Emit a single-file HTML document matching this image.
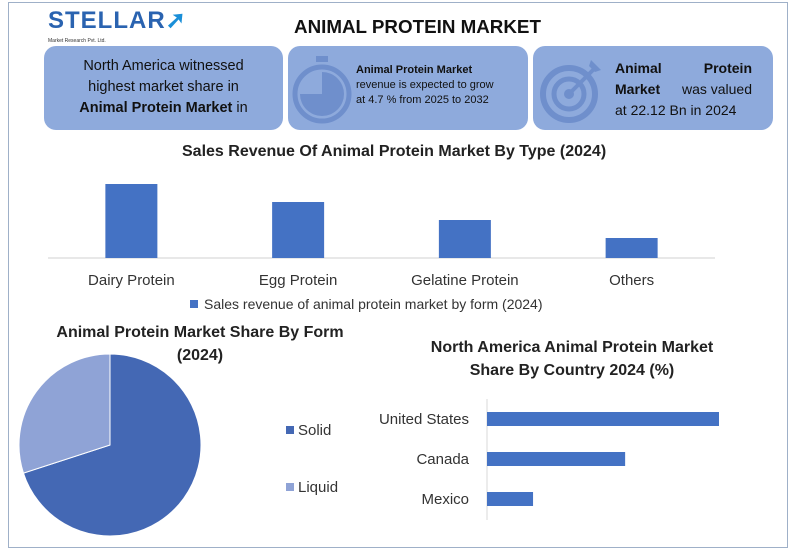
<!DOCTYPE html>
<html><head><meta charset="utf-8"><style>
body{margin:0;width:800px;height:557px;background:#fff;font-family:"Liberation Sans",sans-serif;overflow:hidden;position:relative}
.frame{position:absolute;left:8px;top:2px;width:780px;height:546px;border:1.5px solid #9fb0c8;box-sizing:border-box}
.box{position:absolute;top:46px;height:84px;background:#8eaadc;border-radius:12px;color:#111}
.t{position:absolute;white-space:nowrap}
</style></head><body>
<div class="frame"></div>
<div class="t" style="left:48px;top:6px;font-size:24px;color:#2a63b0;font-weight:bold;letter-spacing:1px">STELLAR<span style="color:#1a8fd8">➚</span></div>
<div class="t" style="left:48px;top:38px;font-size:5px;color:#333">Market Research Pvt. Ltd.</div>
<div class="t" style="left:294px;top:16px;font-size:18.8px;font-weight:bold;color:#111">ANIMAL PROTEIN MARKET</div>

<div class="box" style="left:44px;width:239px">
 <div style="text-align:center;font-size:14.5px;line-height:21px;margin-top:10px">North America witnessed<br>highest market share in<br><b>Animal Protein Market</b> in</div>
</div>
<div class="box" style="left:288px;width:240px">
 <svg width="64" height="70" style="position:absolute;left:2px;top:8px"><rect x="26" y="2" width="12" height="6" fill="#6f8fcc"/><circle cx="32" cy="40" r="27" fill="none" stroke="#6f8fcc" stroke-width="5"/><path d="M32 40 L32 18 A22 22 0 1 1 10 40 Z" fill="#6f8fcc"/></svg>
 <div style="position:absolute;left:68px;top:17px;font-size:11px;line-height:15px"><b>Animal Protein Market</b><br>revenue is expected to grow<br>at 4.7 % from 2025 to 2032</div>
</div>
<div class="box" style="left:533px;width:240px">
 <svg width="70" height="70" style="position:absolute;left:4px;top:8px"><circle cx="32" cy="40" r="26" fill="none" stroke="#6f8fcc" stroke-width="6"/><circle cx="32" cy="40" r="15" fill="none" stroke="#6f8fcc" stroke-width="5"/><circle cx="32" cy="40" r="5" fill="#6f8fcc"/><line x1="32" y1="40" x2="58" y2="14" stroke="#6f8fcc" stroke-width="4"/><path d="M54 6 L64 16 L58 18 L52 12Z" fill="#6f8fcc"/></svg>
 <div style="position:absolute;left:82px;top:12px;width:137px;font-size:14px;line-height:21px"><div style="display:flex;justify-content:space-between"><b>Animal</b><b>Protein</b></div><div style="display:flex;justify-content:space-between"><span><b>Market</b></span><span>was valued</span></div>at 22.12 Bn in 2024</div>
</div>

<div class="t" style="left:182px;top:143px;font-size:16px;font-weight:bold;color:#222">Sales Revenue Of Animal Protein Market By Type (2024)</div>
<svg id="typeChart" width="800" height="320" style="position:absolute;left:0;top:0"></svg>

<div class="t" style="left:20px;top:321px;width:360px;text-align:center;font-size:16px;font-weight:bold;line-height:23px;color:#222">Animal Protein Market Share By Form<br>(2024)</div>
<svg id="pieChart" width="400" height="557" style="position:absolute;left:0;top:0"></svg>

<div class="t" style="left:412px;top:336px;width:320px;text-align:center;font-size:16px;font-weight:bold;line-height:23px;color:#222">North America Animal Protein Market<br>Share By Country 2024 (%)</div>
<svg id="countryChart" width="800" height="557" style="position:absolute;left:0;top:0"></svg>

<script>
const NS="http://www.w3.org/2000/svg";
const typeCats=["Dairy Protein","Egg Protein","Gelatine Protein","Others"];
const typeVals=[7.4,5.6,3.8,2.0];
const formCats=["Solid","Liquid"];
const formVals=[70,30];
const countryCats=["United States","Canada","Mexico"];
const countryVals=[66,39.3,13.1];

function mk(p,tag,a,txt){const e=document.createElementNS(NS,tag);for(const k in a)e.setAttribute(k,a[k]);if(txt!==undefined)e.textContent=txt;p.appendChild(e);return e;}

(function(){
 const s=document.getElementById('typeChart');
 const x0=48,x1=715,base=258,sc=10;
 const band=(x1-x0)/typeCats.length;
 const l=mk(s,'line',{x1:x0,x2:x1,y1:base,y2:base,stroke:'#d0d0d0'});
 
 typeCats.forEach((c,i)=>{
  const cx=x0+band*(i+0.5),h=typeVals[i]*sc;
  const r=mk(s,'rect',{x:cx-26,y:base-h,width:52,height:h,fill:'#4472c4'});
  
  
  const t=mk(s,'text',{x:cx,y:285,'text-anchor':'middle','font-size':15,fill:'#333'},c);
  
  
 });
 const lg=mk(s,'rect',{x:190,y:300,width:8,height:8,fill:'#4472c4'});
 
 const lt=mk(s,'text',{x:204,y:309,'font-size':14,fill:'#333'},'Sales revenue of animal protein market by form (2024)');
 
})();

(function(){
 const s=document.getElementById('pieChart');
 const cx=110,cy=445,r=91,cols=['#4468b4','#8fa3d6'];
 const tot=formVals.reduce((a,b)=>a+b,0);let a0=0;
 formVals.forEach((v,i)=>{
  const a1=a0+v/tot*2*Math.PI;
  const p=(a)=>[cx+r*Math.sin(a),cy-r*Math.cos(a)];
  const [xa,ya]=p(a0),[xb,yb]=p(a1);
  const path=mk(s,'path',{d:`M${cx} ${cy} L${xa} ${ya} A${r} ${r} 0 ${a1-a0>Math.PI?1:0} 1 ${xb} ${yb} Z`,fill:cols[i],stroke:'#fff','stroke-width':1});
  
  
  a0=a1;
  const ly=[430,487][i];
  const m=mk(s,'rect',{x:286,y:ly-4,width:8,height:8,fill:cols[i]});
  
  
  const t=mk(s,'text',{x:298,y:ly+5,'font-size':15,fill:'#333'},formCats[i]);
  
  
 });
})();

(function(){
 const s=document.getElementById('countryChart');
 const x0=487,sc=3.515,y0=399,step=40;
 const ax=mk(s,'line',{x1:x0,x2:x0,y1:y0,y2:520,stroke:'#d8d8d8'});
 
 countryCats.forEach((c,i)=>{
  const yc=y0+20+i*step;
  const r=mk(s,'rect',{x:x0,y:yc-7,width:countryVals[i]*sc,height:14,fill:'#4472c4'});
  
  
  const t=mk(s,'text',{x:469,y:yc+5,'text-anchor':'end','font-size':15,fill:'#333'},c);
  
  
 });
})();
</script>
</body></html>
